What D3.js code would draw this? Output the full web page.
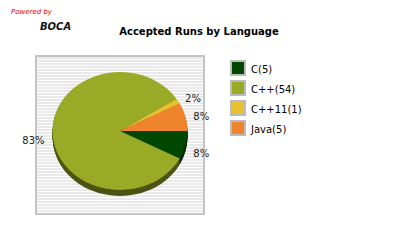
<!DOCTYPE html>
<html>
<head>
<meta charset="utf-8">
<script src="https://cdn.jsdelivr.net/npm/d3@7"></script>
<style>
  body { margin: 0; background: #fff; }
  svg { display: block; font-family: "DejaVu Sans", sans-serif; }
</style>
</head>
<body>
<div id="chart"></div>
<script>
(function(){

  // data
  var languages = ["C", "C++", "C++11", "Java"];
  var runs = [5, 54, 1, 5];
  var colors = ["#004800", "#98aa26", "#e8c030", "#f0842c"];
  var sideColors = ["#002600", "#4c5414", "#8a7018", "#8a4a18"];

  var width = 400, height = 250;
  var cx = 120, cy = 131, rx = 67.5, ry = 59, depth = 6;

  var svg = d3.select("#chart").append("svg")
    .attr("width", width)
    .attr("height", height);

  // powered by
  svg.append("text")
    .attr("x", 11).attr("y", 14)
    .attr("fill", "#e00000")
    .attr("font-size", 7)
    .attr("font-style", "italic")
    .text("Powered by");
  svg.append("text")
    .attr("x", 40).attr("y", 30)
    .attr("fill", "#111")
    .attr("font-size", 10)
    .attr("font-weight", "bold")
    .attr("font-style", "italic")
    .text("BOCA");

  // title
  svg.append("text")
    .attr("x", 199).attr("y", 35)
    .attr("text-anchor", "middle")
    .attr("font-size", 10)
    .attr("font-weight", "bold")
    .attr("fill", "#000")
    .text("Accepted Runs by Language");

  // plot frame with stripes
  var pat = svg.append("defs").append("pattern")
    .attr("id", "stripes")
    .attr("patternUnits", "userSpaceOnUse")
    .attr("width", 4).attr("height", 3);
  pat.append("rect").attr("width", 4).attr("height", 3).attr("fill", "#fff");
  pat.append("rect").attr("width", 4).attr("height", 2).attr("fill", "#e9e9e9");

  svg.append("rect")
    .attr("x", 36).attr("y", 56)
    .attr("width", 168).attr("height", 158)
    .attr("fill", "url(#stripes)")
    .attr("stroke", "#c4c4c4")
    .attr("stroke-width", 2);

  // pie, angles start at 3 o'clock going clockwise
  var total = d3.sum(runs);
  var pie = d3.pie().sort(null)
    .startAngle(Math.PI / 2)
    .endAngle(Math.PI / 2 + 2 * Math.PI);
  var arcs = pie(runs);
  var arc = d3.arc().innerRadius(0).outerRadius(ry);

  var pieG = svg.append("g");

  // side: stacked darker copies
  for (var d = depth; d >= 1; d--) {
    pieG.append("g")
      .attr("transform", "translate(" + cx + "," + (cy + d) + ") scale(" + (rx / ry) + ",1)")
      .selectAll("path")
      .data(arcs)
      .enter()
      .append("path")
      .attr("d", arc)
      .attr("fill", function(a, i){ return sideColors[i]; });
  }

  pieG.append("g")
    .attr("transform", "translate(" + cx + "," + cy + ") scale(" + (rx / ry) + ",1)")
    .selectAll("path")
    .data(arcs)
    .enter()
    .append("path")
    .attr("d", arc)
    .attr("fill", function(a, i){ return colors[i]; });

  // percent labels
  svg.selectAll(".lbl")
    .data(arcs)
    .enter()
    .append("text")
    .attr("class", "lbl")
    .each(function(a){
      // d3 angle 0 is north; convert to screen angle from east
      var m = (a.startAngle + a.endAngle) / 2 - Math.PI / 2;
      var c = Math.cos(m), s = Math.sin(m);
      d3.select(this)
        .attr("x", cx + (rx + 8) * c)
        .attr("y", cy + (ry + 8) * s + (s > 0 ? depth : 1.5) + 3.5)
        .attr("text-anchor", c >= 0 ? "start" : "end");
    })
    .attr("font-size", 10)
    .attr("fill", "#222")
    .text(function(a){ return Math.round(a.value / total * 100) + "%"; });

  // legend
  var leg = svg.selectAll(".leg")
    .data(languages)
    .enter()
    .append("g")
    .attr("class", "leg")
    .attr("transform", function(l, i){ return "translate(231," + (61 + i * 20) + ")"; });

  leg.append("rect")
    .attr("width", 14).attr("height", 14)
    .attr("fill", function(l, i){ return colors[i]; })
    .attr("stroke", "#bbb")
    .attr("stroke-width", 2);

  leg.append("text")
    .attr("x", 20).attr("y", 12)
    .attr("font-size", 10)
    .attr("fill", "#000")
    .text(function(l, i){ return l + "(" + runs[i] + ")"; });

})();
</script>
</body>
</html>
